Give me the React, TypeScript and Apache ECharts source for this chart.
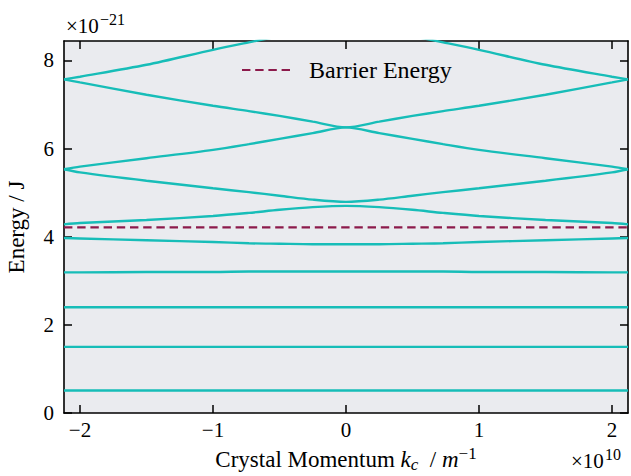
import React, { useEffect, useRef } from "react";
import * as echarts from "echarts";

const kValues = [-2.12, -2, -1.5, -1, -0.73, -0.5, -0.25, 0, 0.25, 0.5, 0.73, 1, 1.5, 2, 2.12];
const band1 = [0.51, 0.51, 0.51, 0.51, 0.51, 0.51, 0.51, 0.51, 0.51, 0.51, 0.51, 0.51, 0.51, 0.51, 0.51];
const band2 = [1.5, 1.5, 1.5, 1.5, 1.5, 1.5, 1.5, 1.5, 1.5, 1.5, 1.5, 1.5, 1.5, 1.5, 1.5];
const band3 = [2.4, 2.4, 2.4, 2.4, 2.4, 2.4, 2.4, 2.4, 2.4, 2.4, 2.4, 2.4, 2.4, 2.4, 2.4];
const band4 = [3.19, 3.19, 3.2, 3.2, 3.21, 3.21, 3.21, 3.21, 3.21, 3.21, 3.21, 3.2, 3.2, 3.19, 3.19];
const band5 = [3.97, 3.96, 3.92, 3.88, 3.85, 3.84, 3.83, 3.83, 3.83, 3.84, 3.85, 3.88, 3.92, 3.96, 3.97];
const band6 = [4.28, 4.31, 4.38, 4.47, 4.54, 4.61, 4.67, 4.7, 4.67, 4.61, 4.54, 4.47, 4.38, 4.31, 4.28];
const band7 = [5.53, 5.46, 5.27, 5.1, 5.01, 4.93, 4.84, 4.79, 4.84, 4.93, 5.01, 5.1, 5.27, 5.46, 5.53];
const band8 = [5.53, 5.59, 5.78, 5.97, 6.1, 6.22, 6.35, 6.48, 6.35, 6.22, 6.1, 5.97, 5.78, 5.59, 5.53];
const band9 = [7.57, 7.5, 7.22, 6.97, 6.85, 6.74, 6.61, 6.48, 6.61, 6.74, 6.85, 6.97, 7.22, 7.5, 7.57];
const band10 = [7.57, 7.63, 7.9, 8.24, 8.41, 8.55, null, null, null, 8.55, 8.41, 8.24, 7.9, 7.63, 7.57];
const bands = [band1, band2, band3, band4, band5, band6, band7, band8, band9, band10];

const barrierEnergy = 4.21;
const barrierName = "Barrier Energy";
const xTicks = [-2, -1, 0, 1, 2];
const yTicks = [0, 2, 4, 6, 8];
const xMin = -2.12;
const xMax = 2.12;
const yMin = 0;
const yMax = 8.44;

const FAMILY = "'Liberation Serif', 'DejaVu Serif', 'Times New Roman', serif";
const TEAL = "#17bdb8";
const MAROON = "#8c1a4b";

const fmt = (v: number) => (v < 0 ? "\u2212" + Math.abs(v) : String(v));

export default function App() {
  const ref = useRef<HTMLDivElement>(null);
  useEffect(() => {
    if (!ref.current) return;
    const chart = echarts.init(ref.current, undefined, { renderer: "svg" });
    const axisLine = { show: true, onZero: false, lineStyle: { color: "#000", width: 1.6 } };
    const tick = (vals: number[]) => ({
      show: true,
      inside: true,
      length: 8,
      lineStyle: { color: "#000", width: 1.5 },
      customValues: vals,
    });
    const bandSeries = bands.map((b, idx) => ({
      name: "band" + (idx + 1),
      type: "line",
      data: kValues.map((k, i) => [k, b[i] === null ? "-" : b[i]]),
      showSymbol: false,
      symbol: "none",
      smooth: 0.3,
      clip: true,
      lineStyle: { color: TEAL, width: 2.4 },
      itemStyle: { color: TEAL },
      z: 3,
    }));
    const dashIcon =
      "path://M0,0h8.4v2h-8.4z M13.2,0h8.4v2h-8.4z M26.4,0h8.4v2h-8.4z M39.6,0h8.4v2h-8.4z";
    const txt = (x: number, y: number, text: string, size: number) => ({
      type: "text",
      x,
      y,
      style: { text, font: size + "px " + FAMILY, fill: "#000", verticalAlign: "middle", align: "left" },
    });
    chart.setOption({
      animation: false,
      backgroundColor: "#fff",
      grid: {
        left: 64,
        right: 3,
        top: 41,
        bottom: 63,
        containLabel: false,
        outerBoundsMode: "none",
        show: true,
        backgroundColor: "#eaebef",
        borderWidth: 0,
      },
      legend: {
        data: [{ name: barrierName, icon: dashIcon }],
        left: 242,
        top: 58,
        padding: 0,
        itemWidth: 48,
        itemHeight: 2.3,
        textStyle: { fontFamily: FAMILY, fontSize: 24, color: "#000", padding: [0, 0, 0, 14] },
      },
      xAxis: [
        {
          type: "value",
          position: "bottom",
          min: xMin,
          max: xMax,
          axisLine,
          axisTick: tick(xTicks),
          splitLine: { show: false },
          axisLabel: {
            customValues: xTicks,
            formatter: fmt,
            fontFamily: FAMILY,
            fontSize: 21,
            color: "#000",
            margin: 6,
          },
          name: "{a|Crystal Momentum }{i|k}{sub|c}{a|  /}{i| m}{sup|\u22121}",
          nameLocation: "middle",
          nameGap: 32,
          nameTextStyle: {
            fontFamily: FAMILY,
            fontSize: 23,
            color: "#000",
            rich: {
              a: { fontFamily: FAMILY, fontSize: 23, color: "#000", lineHeight: 28, verticalAlign: "middle" },
              i: { fontFamily: FAMILY, fontSize: 23, fontStyle: "italic", color: "#000", lineHeight: 28, verticalAlign: "middle" },
              sub: { fontFamily: FAMILY, fontSize: 17, fontStyle: "italic", color: "#000", lineHeight: 17, verticalAlign: "bottom" },
              sup: { fontFamily: FAMILY, fontSize: 17, color: "#000", lineHeight: 16, verticalAlign: "top" },
            },
          },
        },
        {
          type: "value",
          position: "top",
          min: xMin,
          max: xMax,
          axisLine,
          axisTick: tick(xTicks),
          axisLabel: { show: false },
          splitLine: { show: false },
        },
      ],
      yAxis: [
        {
          type: "value",
          position: "left",
          min: yMin,
          max: yMax,
          axisLine,
          axisTick: tick(yTicks),
          splitLine: { show: false },
          axisLabel: {
            customValues: yTicks,
            formatter: fmt,
            fontFamily: FAMILY,
            fontSize: 21,
            color: "#000",
            margin: 10,
          },
          name: "Energy / J",
          nameLocation: "middle",
          nameGap: 36,
          nameTextStyle: { fontFamily: FAMILY, fontSize: 23, color: "#000" },
        },
        {
          type: "value",
          position: "right",
          min: yMin,
          max: yMax,
          axisLine,
          axisTick: tick(yTicks),
          axisLabel: { show: false },
          splitLine: { show: false },
        },
      ],
      graphic: [
        txt(66, 26, "\u00d710", 21),
        txt(100, 19, "\u221221", 16),
        txt(571, 461, "\u00d710", 21),
        txt(605, 454, "10", 16),
      ],
      series: [
        ...bandSeries,
        {
          name: barrierName,
          type: "line",
          data: [
            [xMin, barrierEnergy],
            [xMax, barrierEnergy],
          ],
          showSymbol: false,
          symbol: "none",
          lineStyle: { color: MAROON, width: 2.3, type: [8.4, 4.8] },
          itemStyle: { color: MAROON },
          z: 4,
        },
      ],
    });
    return () => chart.dispose();
  }, []);
  return <div ref={ref} style={{ position: "fixed", left: 0, top: 0, width: 631, height: 476 }} />;
}
